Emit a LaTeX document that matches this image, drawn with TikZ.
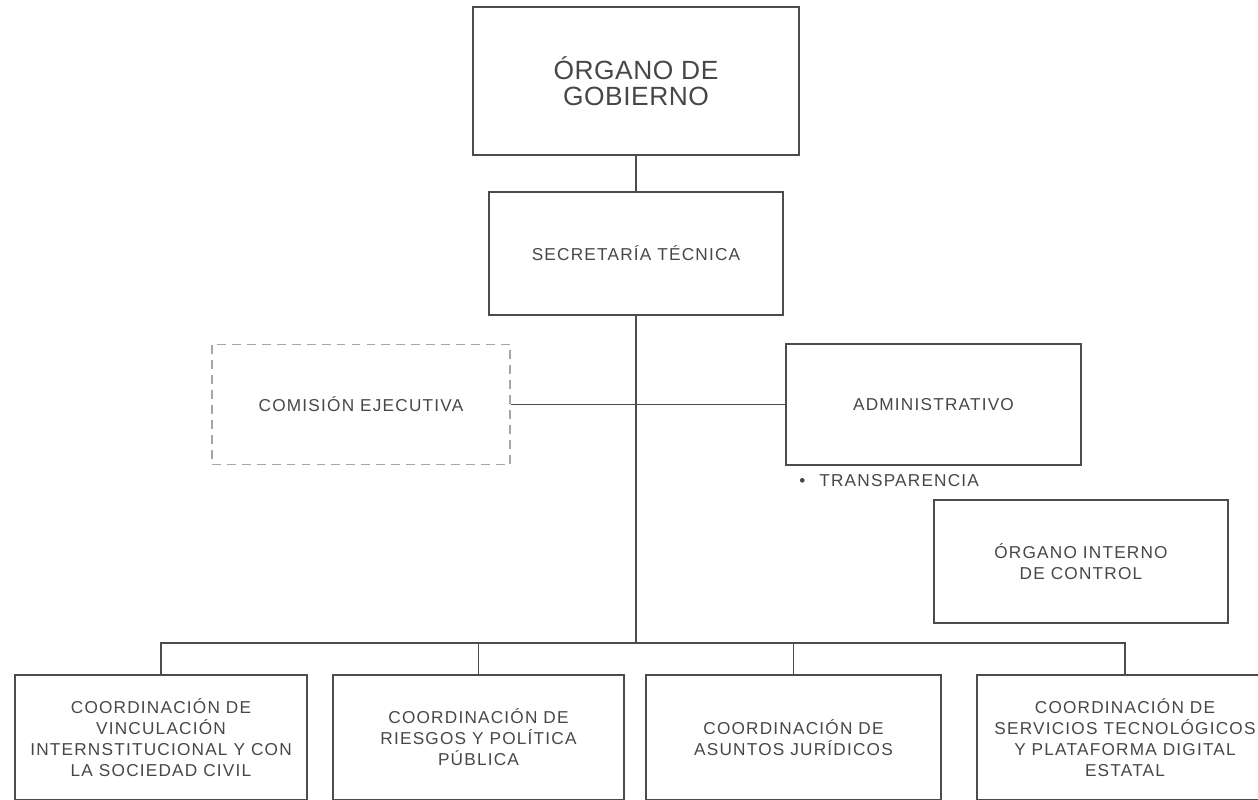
\documentclass[tikz,border=0pt]{standalone}
\usepackage{fontspec}
\setmainfont{Liberation Sans}[LetterSpace=7]
\usetikzlibrary{positioning}

\definecolor{linegray}{gray}{0.3}
\definecolor{txtgray}{gray}{0.28}

\begin{document}
\begin{tikzpicture}[
	orgbox/.style={draw=linegray, line width=0.9pt, rectangle, align=center, text=txtgray, inner sep=2pt, font=\fontsize{9.8}{12}\selectfont},
	dashbox/.style={orgbox, draw=gray!70, dash pattern=on 5pt off 3.5pt},
	link/.style={draw=linegray, line width=0.9pt}]
 	\useasboundingbox (0,0) rectangle (25.16,-15.98);
 	\clip (0,0) rectangle (25.16,-15.98);
 	%\draw[help lines] (0,0) grid (25,-16);

	\node[orgbox, minimum width=6.52cm, minimum height=2.96cm, text depth=-0.22cm, font=\fontsize{15}{14.5}\selectfont\addfontfeatures{LetterSpace=2}] (gobierno) at (12.72,-1.62) {ÓRGANO DE\\GOBIERNO};

	\node[orgbox, minimum width=5.88cm, minimum height=2.46cm] (secretaria) at (12.72,-5.07) {SECRETARÍA TÉCNICA};

	\node[dashbox, minimum width=5.96cm, minimum height=2.4cm] (comision) at (7.22,-8.09) {COMISIÓN EJECUTIVA};

	\node[orgbox, minimum width=5.9cm, minimum height=2.42cm] (admin) at (18.67,-8.09) {ADMINISTRATIVO};

	\node[text=txtgray, anchor=west, inner sep=0pt, font=\fontsize{9.8}{12}\selectfont] (transp) at (15.98,-9.62) {•\hspace{0.28cm}TRANSPARENCIA};

	\node[orgbox, minimum width=5.88cm, minimum height=2.46cm] (interno) at (21.62,-11.23) {ÓRGANO INTERNO\\DE CONTROL};

	% coordinaciones
	\node[orgbox, minimum width=5.84cm, minimum height=2.5cm] (vinculacion) at (3.22,-14.75) {COORDINACIÓN DE\\VINCULACIÓN\\INTERNSTITUCIONAL Y CON\\LA SOCIEDAD CIVIL};

	\node[orgbox, minimum width=5.82cm, minimum height=2.5cm] (riesgos) at (9.57,-14.75) {COORDINACIÓN DE\\RIESGOS Y POLÍTICA\\PÚBLICA};

	\node[orgbox, minimum width=5.9cm, minimum height=2.5cm] (juridicos) at (15.87,-14.75) {COORDINACIÓN DE\\ASUNTOS JURÍDICOS};

	\node[orgbox, minimum width=5.92cm, minimum height=2.5cm] (servicios) at (22.5,-14.75) {COORDINACIÓN DE\\SERVICIOS TECNOLÓGICOS\\Y PLATAFORMA DIGITAL\\ESTATAL};

	\coordinate (bus) at (12.72,-12.86);

	\path[link] (gobierno.south) -- (secretaria.north);

	\path[link] (secretaria.south) -- (bus);

	\path[link] (comision.east) -- (admin.west);

	\path[link] (vinculacion.north) |- (bus) -| (servicios.north);

	\path[link] (riesgos.north) -- (riesgos.north |- bus);

	\path[link] (juridicos.north) -- (juridicos.north |- bus);
\end{tikzpicture}
\end{document}
